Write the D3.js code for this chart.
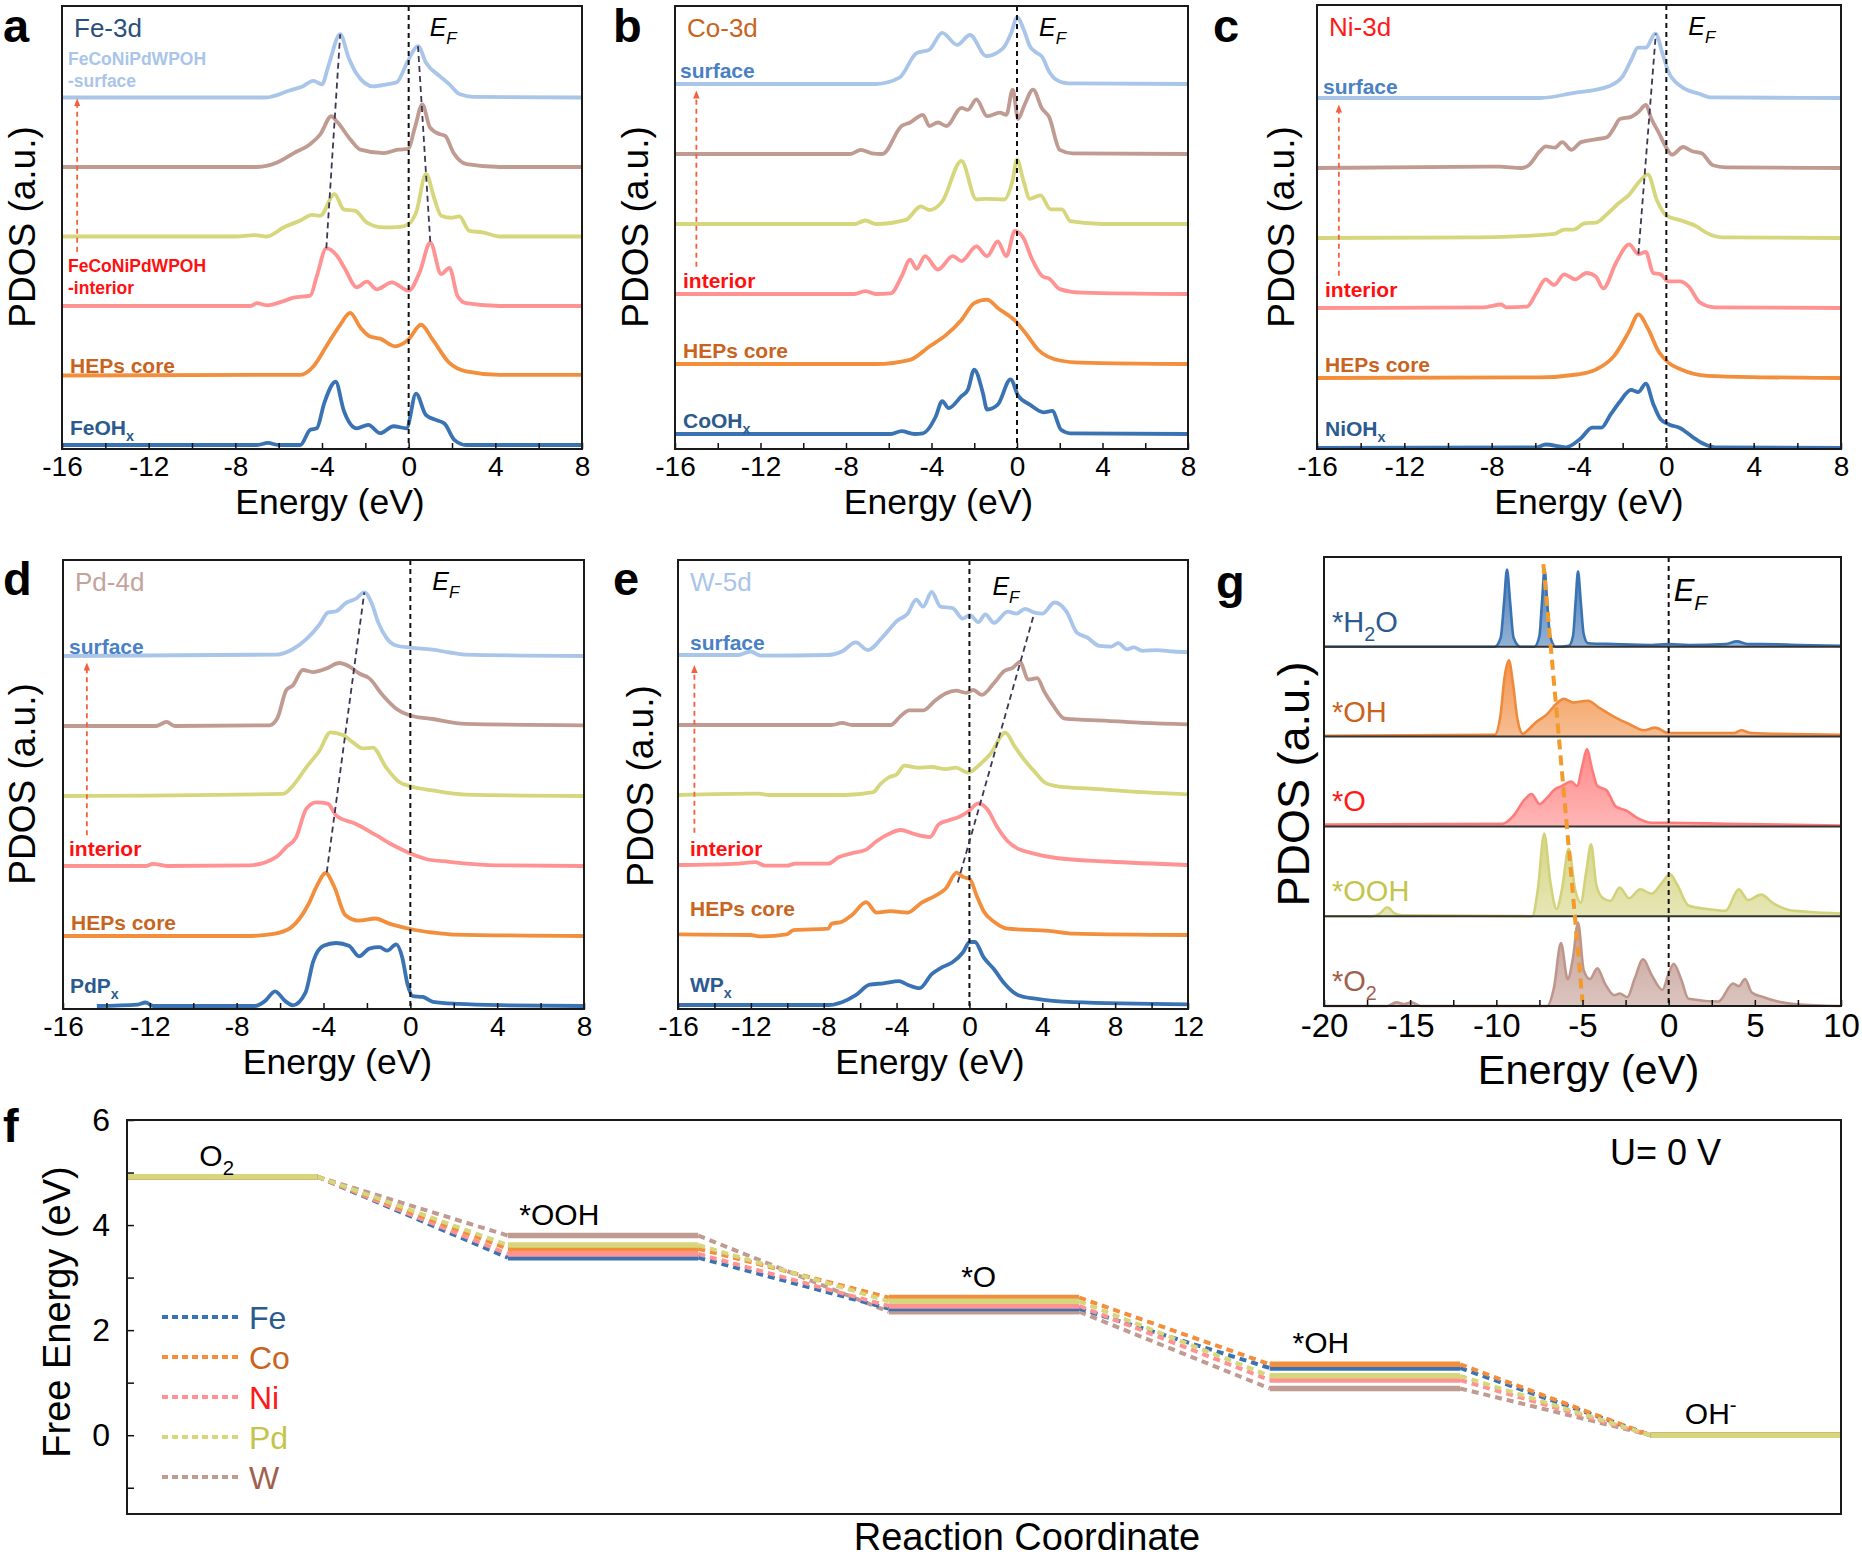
<!DOCTYPE html>
<html>
<head>
<meta charset="utf-8">
<script src="https://d3js.org/d3.v7.min.js"></script>
<style>
  body { margin: 0; background: #fff; }
  svg text { font-family: "Liberation Sans", Arial, sans-serif; }
</style>
</head>
<body>
<script>
// ================= data =================
// PDOS curves: [energy (eV), height in units of the curve spacing]
// layer order: 0 reference, 1 HEPs core, 2 interior, 3, 4, 5 surface
var fe_ref = [[-16,0],[-7,0],[-6.5,0.03],[-6.0,0],[-5.0,0],[-4.54,0.22],[-4.24,0.24],[-3.9,0.6],[-3.37,0.91],[-3.0,0.5],[-2.4,0.24],[-1.86,0.29],[-1.32,0.17],[-0.7,0.27],[-0.1,0.24],[0.34,0.74],[0.8,0.43],[1.27,0.36],[1.65,0.31],[2.12,0.07],[2.65,0],[8,0]];
var fe_core = [[-16,0],[-5.0,0.01],[-4.4,0.13],[-3.8,0.42],[-3.16,0.73],[-2.7,0.9],[-2.23,0.69],[-1.78,0.56],[-1.32,0.53],[-0.63,0.42],[0.0,0.52],[0.57,0.73],[1.1,0.52],[1.88,0.18],[2.65,0.06],[4.2,0.01],[8,0.01]];
var fe_interior = [[-16,0],[-7.3,0],[-7.0,0.04],[-6.55,0.01],[-5.78,0.07],[-5.32,0.12],[-4.54,0.15],[-4.24,0.43],[-3.8,0.83],[-3.3,0.72],[-2.93,0.53],[-2.4,0.27],[-1.93,0.35],[-1.47,0.24],[-0.78,0.34],[0.0,0.22],[0.5,0.48],[1.0,0.91],[1.5,0.46],[1.88,0.55],[2.26,0.14],[2.65,0.04],[4.2,0],[8,0]];
var fe_mid = [[-16,0],[-8,0],[-7.1,0.02],[-6.55,0],[-5.78,0.13],[-5.0,0.23],[-4.46,0.31],[-4.08,0.3],[-3.42,0.61],[-3.0,0.39],[-2.46,0.37],[-1.93,0.2],[-1.16,0.13],[-0.4,0.14],[0.0,0.18],[0.35,0.35],[0.8,0.9],[1.19,0.54],[1.5,0.3],[1.96,0.27],[2.34,0.29],[2.8,0.08],[3.42,0.06],[4.2,0],[8,0]];
var fe_upper = [[-16,0],[-7.0,0],[-6.1,0.06],[-5.3,0.2],[-4.54,0.33],[-4.08,0.47],[-3.57,0.73],[-3.3,0.65],[-2.7,0.4],[-2.23,0.25],[-1.16,0.2],[-0.48,0.25],[-0.03,0.26],[0.29,0.57],[0.63,0.9],[0.98,0.57],[1.45,0.47],[1.68,0.45],[2.06,0.21],[2.68,0.04],[4.2,0],[8,0]];
var fe_surface = [[-16,0],[-6.6,0],[-5.5,0.1],[-4.9,0.16],[-4.4,0.24],[-4.0,0.19],[-3.7,0.46],[-3.16,0.91],[-2.78,0.58],[-2.4,0.34],[-1.63,0.16],[-1.0,0.19],[-0.55,0.22],[-0.03,0.53],[0.43,0.74],[0.8,0.5],[1.42,0.31],[1.88,0.19],[2.34,0.05],[3.0,0.01],[8,0]];
var fe_shift = [[[-3.8,2.83],[-3.16,5.91]], [[0.43,5.74],[1.0,2.91]]];

var co_ref = [[-16,0],[-5.9,0],[-5.4,0.04],[-4.8,0],[-4.4,0.01],[-3.8,0.25],[-3.5,0.47],[-3.2,0.37],[-2.6,0.54],[-2.3,0.63],[-2.0,0.92],[-1.6,0.59],[-1.4,0.35],[-0.9,0.42],[-0.3,0.78],[0.05,0.55],[0.6,0.42],[1.25,0.31],[1.65,0.33],[2.06,0.06],[2.5,0.01],[8,0]];
var co_core = [[-16,0],[-6.6,0],[-5.0,0.06],[-4.1,0.25],[-3.3,0.42],[-2.6,0.63],[-2.0,0.87],[-1.4,0.92],[-0.9,0.8],[0.0,0.59],[0.5,0.4],[1.0,0.2],[2.0,0.05],[3.0,0.02],[8,0]];
var co_interior = [[-16,0],[-7.6,0],[-7.1,0.04],[-6.6,0],[-5.9,0.01],[-5.4,0.25],[-5.0,0.49],[-4.7,0.36],[-4.3,0.54],[-3.7,0.35],[-3.0,0.54],[-2.6,0.47],[-1.9,0.68],[-1.4,0.54],[-0.9,0.75],[-0.5,0.54],[-0.1,0.9],[0.3,0.8],[0.7,0.5],[1.2,0.25],[1.5,0.22],[2.0,0.07],[3.0,0.02],[8,0]];
var co_mid = [[-16,0],[-7.6,0],[-7.1,0.05],[-6.6,0],[-5.2,0.06],[-4.5,0.25],[-4.1,0.2],[-3.5,0.32],[-2.6,0.9],[-1.9,0.35],[-1.5,0.36],[-0.6,0.35],[-0.2,0.63],[0.0,0.92],[0.3,0.62],[0.6,0.36],[1.1,0.41],[1.57,0.21],[2.1,0.21],[2.5,0.04],[4,0],[8,0]];
var co_upper = [[-16,0],[-7.8,0],[-7.3,0.06],[-6.8,0.01],[-6.3,0],[-5.4,0.4],[-5.0,0.45],[-4.4,0.56],[-4.1,0.4],[-3.7,0.45],[-3.3,0.4],[-2.6,0.66],[-2.3,0.63],[-1.9,0.78],[-1.4,0.54],[-0.8,0.59],[-0.5,0.56],[-0.2,0.92],[0.05,0.5],[0.35,0.7],[0.75,0.92],[1.17,0.65],[1.5,0.53],[2.0,0.06],[2.6,0.01],[8,0]];
var co_surface = [[-16,0],[-6.6,0],[-5.5,0.09],[-4.7,0.44],[-4.1,0.49],[-3.5,0.73],[-2.8,0.56],[-2.2,0.7],[-1.44,0.4],[-0.66,0.51],[-0.27,0.73],[0.0,0.95],[0.35,0.75],[0.6,0.54],[0.9,0.45],[1.17,0.39],[1.5,0.18],[1.8,0.07],[2.4,0.01],[8,0]];

var ni_ref = [[-16,0],[-5.96,0.01],[-5.53,0.05],[-4.6,0.01],[-3.91,0.14],[-3.4,0.29],[-2.98,0.29],[-2.55,0.48],[-2.13,0.66],[-1.62,0.83],[-1.28,0.8],[-0.94,0.92],[-0.6,0.63],[-0.26,0.41],[0.17,0.33],[0.6,0.29],[1.19,0.16],[1.7,0.06],[2.21,0.01],[8,0]];
var ni_core = [[-16,0],[-5.79,0.01],[-4.09,0.05],[-3.23,0.12],[-2.38,0.32],[-1.7,0.67],[-1.28,0.91],[-0.85,0.71],[-0.34,0.37],[0.09,0.22],[0.68,0.12],[1.87,0.03],[4.43,0.01],[8,0]];
var ni_interior = [[-16,0],[-8.34,0.01],[-7.57,0.05],[-7.32,0.01],[-6.38,0.02],[-5.96,0.21],[-5.53,0.41],[-5.14,0.33],[-4.68,0.48],[-4.17,0.41],[-3.66,0.5],[-3.23,0.45],[-2.89,0.28],[-2.3,0.65],[-1.7,0.91],[-1.28,0.77],[-0.94,0.8],[-0.6,0.5],[-0.26,0.48],[0.09,0.38],[0.6,0.38],[1.02,0.31],[1.53,0.08],[2.21,0.01],[8,0]];
var ni_mid = [[-16,0],[-8.5,0.01],[-5.11,0.06],[-4.68,0.12],[-4.26,0.12],[-3.74,0.21],[-3.23,0.22],[-2.72,0.34],[-2.21,0.49],[-1.7,0.62],[-1.28,0.79],[-0.85,0.91],[-0.43,0.54],[0.0,0.32],[0.68,0.25],[1.36,0.17],[1.87,0.07],[2.55,0.01],[8,0]];
var ni_upper = [[-16,0],[-7.66,0.02],[-6.64,0],[-6.3,0.04],[-5.79,0.24],[-5.53,0.31],[-5.11,0.29],[-4.77,0.37],[-4.34,0.26],[-3.91,0.37],[-3.23,0.41],[-2.72,0.44],[-2.38,0.58],[-2.13,0.7],[-1.62,0.73],[-1.28,0.8],[-0.94,0.9],[-0.68,0.7],[-0.34,0.5],[0.0,0.29],[0.26,0.19],[0.77,0.3],[1.19,0.24],[1.62,0.21],[2.13,0.04],[2.72,0.01],[8,0]];
var ni_surface = [[-16,0],[-5.8,0],[-4.1,0.08],[-3.2,0.12],[-2.7,0.16],[-2.0,0.31],[-1.6,0.55],[-1.3,0.72],[-0.94,0.72],[-0.5,0.92],[-0.17,0.63],[0.09,0.38],[0.7,0.16],[1.5,0.06],[2.0,0.01],[8,0]];
var ni_shift = [[[-1.28,2.77],[-0.48,5.92]]];

var pd_ref = [[-14.44,0],[-12.56,0.02],[-12.2,0.05],[-11.84,0],[-7.16,0],[-6.7,0.07],[-6.23,0.21],[-5.76,0.07],[-5.41,0.01],[-4.83,0.19],[-4.47,0.64],[-4.0,0.86],[-3.42,0.9],[-2.83,0.86],[-2.36,0.71],[-1.89,0.82],[-1.42,0.84],[-1.07,0.79],[-0.65,0.88],[-0.37,0.69],[-0.13,0.31],[0.11,0.14],[0.57,0.13],[1.04,0.06],[2.21,0.03],[4.56,0.01],[8,0]];
var pd_core = [[-16,0],[-7.5,0],[-6.3,0.03],[-5.5,0.12],[-4.7,0.45],[-4.3,0.72],[-3.9,0.9],[-3.5,0.7],[-3.0,0.3],[-2.4,0.22],[-1.6,0.25],[-1.0,0.18],[0.0,0.1],[1.0,0.05],[2.0,0.02],[8,0]];
var pd_interior = [[-16,0],[-12.2,0],[-11.85,0.03],[-11.2,0],[-7.4,0.01],[-6.17,0.13],[-5.72,0.27],[-5.26,0.41],[-4.79,0.82],[-4.33,0.91],[-3.8,0.89],[-3.41,0.72],[-2.5,0.6],[-1.58,0.44],[-0.81,0.3],[0.0,0.18],[0.72,0.1],[1.79,0.06],[4.09,0.01],[8,0]];
var pd_mid = [[-16,0],[-5.86,0.03],[-5.4,0.15],[-4.79,0.41],[-4.18,0.65],[-3.68,0.91],[-3.11,0.87],[-2.66,0.77],[-2.2,0.68],[-1.73,0.69],[-1.12,0.41],[-0.51,0.2],[0.0,0.14],[1.02,0.08],[2.55,0.02],[8,0]];
var pd_upper = [[-16,0],[-11.7,0],[-11.23,0.06],[-10.85,0],[-6.48,0.01],[-6.1,0.13],[-5.72,0.51],[-5.41,0.58],[-4.95,0.8],[-4.49,0.77],[-3.88,0.82],[-3.27,0.9],[-2.81,0.85],[-2.35,0.75],[-1.89,0.68],[-1.27,0.44],[-0.66,0.25],[0.0,0.15],[1.02,0.1],[2.55,0.03],[8,0.01]];
var pd_surface = [[-16,0],[-6.17,0.02],[-5.4,0.1],[-4.79,0.24],[-4.18,0.45],[-3.8,0.62],[-3.41,0.64],[-2.96,0.76],[-2.5,0.82],[-2.12,0.91],[-1.79,0.76],[-1.48,0.48],[-1.1,0.26],[-0.66,0.15],[0.0,0.12],[1.02,0.09],[1.8,0.05],[2.5,0.02],[8,0]];
var pd_shift = [[[-3.85,1.91],[-2.12,5.91]]];

var w_ref = [[-16,0],[-7.76,0],[-7.0,0.04],[-6.24,0.14],[-5.48,0.29],[-4.72,0.31],[-3.87,0.34],[-3.4,0.29],[-2.73,0.24],[-2.07,0.44],[-1.5,0.54],[-0.93,0.61],[-0.36,0.75],[0.02,0.9],[0.3,0.9],[0.78,0.68],[1.35,0.51],[1.91,0.31],[2.68,0.14],[3.62,0.09],[5.7,0.04],[12,0.01]];
var w_core = [[-16,0.01],[-12.02,0],[-11.55,-0.02],[-10.03,0.01],[-9.66,0.07],[-7.76,0.09],[-7.57,0.16],[-7.0,0.19],[-6.43,0.29],[-5.67,0.47],[-5.1,0.32],[-4.34,0.34],[-3.4,0.32],[-2.64,0.46],[-1.88,0.56],[-1.31,0.66],[-0.7,0.89],[-0.36,0.83],[0.02,0.8],[0.4,0.56],[0.78,0.34],[1.35,0.19],[2.1,0.09],[4.38,0.06],[5.7,0.02],[12,0]];
var w_interior = [[-16,0],[-12.7,0.02],[-11.74,0.04],[-11.2,-0.01],[-10.03,-0.01],[-9.56,0.02],[-7.76,0.02],[-7.19,0.11],[-6.43,0.17],[-5.67,0.22],[-5.1,0.34],[-4.53,0.43],[-3.77,0.5],[-3.0,0.44],[-2.16,0.4],[-1.69,0.58],[-1.12,0.64],[-0.55,0.69],[-0.08,0.76],[0.49,0.88],[0.97,0.8],[1.53,0.54],[2.1,0.34],[2.68,0.23],[3.43,0.17],[4.76,0.1],[7.6,0.05],[12,0]];
var w_mid = [[-16,0],[-11.55,0.02],[-11.0,0],[-6.8,0],[-5.29,0.04],[-4.91,0.15],[-4.44,0.25],[-3.97,0.3],[-3.58,0.42],[-2.83,0.39],[-2.07,0.4],[-1.31,0.37],[-0.74,0.39],[-0.08,0.32],[0.59,0.44],[1.16,0.59],[1.97,0.89],[2.49,0.69],[3.05,0.49],[3.62,0.32],[4.19,0.17],[4.95,0.12],[6.66,0.09],[9.5,0.04],[12,0.01]];
var w_upper = [[-16,0],[-7.57,0],[-7.0,0.03],[-6.43,0],[-4.34,0],[-3.77,0.13],[-3.3,0.21],[-2.54,0.21],[-1.88,0.35],[-1.31,0.45],[-0.74,0.49],[-0.17,0.46],[0.21,0.5],[0.68,0.43],[1.35,0.6],[1.91,0.77],[2.39,0.82],[2.77,0.9],[3.24,0.65],[3.72,0.67],[4.1,0.48],[4.57,0.29],[5.24,0.09],[7.6,0.06],[9.5,0.03],[12,0.01]];
var w_surface = [[-16,0],[-12.7,0],[-12.02,0.05],[-11.46,-0.01],[-7.76,0],[-7.0,0.05],[-6.24,0.18],[-5.58,0.07],[-4.72,0.27],[-3.97,0.49],[-3.4,0.59],[-2.92,0.79],[-2.54,0.69],[-2.07,0.9],[-1.59,0.69],[-0.93,0.67],[-0.36,0.52],[0.02,0.57],[0.49,0.47],[0.87,0.58],[1.35,0.46],[2.1,0.62],[2.58,0.59],[3.05,0.66],[3.53,0.61],[4.0,0.59],[4.67,0.75],[5.33,0.62],[5.9,0.32],[6.47,0.25],[7.13,0.13],[7.8,0.12],[8.17,0.17],[8.65,0.08],[9.03,0.11],[9.5,0.06],[10.26,0.07],[11.2,0.05],[12,0.04]];
var w_shift = [[[-0.64,1.75],[3.53,5.57]]];

// panel g: O-2p PDOS of adsorbates, height as fraction of each strip
var g_h2o = [[-20,0],[-10.1,0],[-9.75,0.1],[-9.55,0.5],[-9.38,0.86],[-9.2,0.5],[-9.0,0.1],[-8.6,0],[-7.8,0],[-7.5,0.12],[-7.35,0.5],[-7.2,0.86],[-7.05,0.5],[-6.88,0.12],[-6.55,0],[-5.8,0.01],[-5.55,0.12],[-5.4,0.5],[-5.26,0.84],[-5.1,0.5],[-4.93,0.14],[-4.68,0.04],[-3.16,0.03],[-1.0,0.02],[0,0.03],[1.15,0.02],[3.3,0.03],[3.96,0.06],[4.6,0.03],[5.47,0.03],[7.6,0.02],[10,0.01]];
var g_oh = [[-20,0.01],[-10.1,0.02],[-9.75,0.25],[-9.53,0.65],[-9.27,0.85],[-9.04,0.6],[-8.78,0.2],[-8.45,0.03],[-8.24,0.06],[-7.7,0.16],[-7.05,0.25],[-6.5,0.37],[-6.08,0.42],[-5.54,0.38],[-4.68,0.4],[-4.03,0.32],[-3.16,0.22],[-2.3,0.14],[-1.44,0.07],[-0.79,0.1],[0,0.04],[1.15,0.04],[3.8,0.04],[4.2,0.07],[4.8,0.04],[10,0.02]];
var g_o = [[-20,0.02],[-9.64,0.03],[-9.0,0.12],[-8.35,0.3],[-7.96,0.36],[-7.48,0.25],[-7.05,0.32],[-6.62,0.41],[-6.19,0.45],[-5.65,0.5],[-5.32,0.45],[-5.0,0.68],[-4.74,0.86],[-4.46,0.65],[-4.14,0.45],[-3.6,0.4],[-3.06,0.22],[-2.5,0.18],[-1.87,0.1],[-1.0,0.04],[0,0.04],[3.3,0.03],[10,0.01]];
var g_ooh = [[-20,0],[-17.2,0],[-16.76,0.03],[-16.33,0.1],[-15.9,0.03],[-15.47,0.01],[-7.91,0],[-7.59,0.3],[-7.22,0.92],[-6.88,0.4],[-6.5,0.08],[-6.19,0.3],[-5.8,0.75],[-5.43,0.3],[-5.1,0.15],[-4.78,0.5],[-4.5,0.8],[-4.2,0.35],[-3.81,0.2],[-3.38,0.17],[-2.84,0.32],[-2.3,0.2],[-1.65,0.3],[-1.0,0.25],[-0.36,0.38],[0.07,0.47],[0.5,0.35],[1.15,0.12],[2.23,0.08],[3.3,0.06],[4.07,0.3],[4.6,0.18],[5.36,0.24],[6.1,0.14],[6.98,0.07],[8.06,0.05],[10,0.03]];
var g_o2 = [[-20,0],[-16.33,0],[-15.8,0.04],[-15.36,0.02],[-14.93,0.04],[-14.39,0],[-7.05,0],[-6.66,0.2],[-6.25,0.7],[-5.86,0.3],[-5.54,0.55],[-5.26,0.93],[-4.93,0.4],[-4.57,0.3],[-4.14,0.42],[-3.7,0.25],[-3.16,0.12],[-2.84,0.14],[-2.4,0.1],[-1.98,0.3],[-1.48,0.52],[-1.0,0.35],[-0.36,0.18],[-0.02,0.35],[0.29,0.47],[0.72,0.3],[1.15,0.08],[2.88,0.05],[3.74,0.25],[4.07,0.22],[4.43,0.3],[4.82,0.15],[5.47,0.1],[6.33,0.05],[7.4,0.02],[10,0]];
var g_shift = [[-7.27,4.92],[-5.0,0.05]];

// panel f: free energy diagram
var steps = ["O2", "*OOH", "*O", "*OH", "OH-"];
var metals = ["Fe", "Co", "Ni", "Pd", "W"];
var feG = [4.92, 3.38, 2.41, 1.28, 0];
var coG = [4.92, 3.55, 2.62, 1.35, 0];
var niG = [4.92, 3.45, 2.46, 1.05, 0];
var pdG = [4.92, 3.62, 2.55, 1.13, 0];
var wG  = [4.92, 3.80, 2.35, 0.89, 0];
var fTicks = [6, 4, 2, 0];

// ================= drawing =================
var W = 1862, H = 1560;
var svg = d3.select("body").append("svg").attr("width", W).attr("height", H);
svg.append("rect").attr("width", W).attr("height", H).attr("fill", "#fff");

var defs = svg.append("defs");
defs.append("marker").attr("id", "arr").attr("viewBox", "0 0 10 10")
  .attr("refX", 5).attr("refY", 5).attr("markerWidth", 8).attr("markerHeight", 8)
  .attr("markerUnits", "userSpaceOnUse").attr("orient", "auto")
  .append("path").attr("d", "M0,1 L10,5 L0,9 Z").attr("fill", "#f2603c");

var layerColors = ["#3a73b3", "#f28e3c", "#ff9393", "#d6d67c", "#c09b92", "#a9c5e9"];

// text with sub/superscripts
function rich(g, x, y, parts, size, attrs) {
  var t = g.append("text").attr("x", x).attr("y", y).attr("font-size", size);
  for (var k in attrs) t.attr(k, attrs[k]);
  var shift = 0;
  parts.forEach(function (p) {
    if (typeof p === "string") p = { t: p };
    var s = t.append("tspan").text(p.t);
    var target = p.sub ? size * 0.3 : (p.sup ? -size * 0.4 : 0);
    if (target !== shift) { s.attr("dy", target - shift); shift = target; }
    if (p.sub || p.sup) s.attr("font-size", size * 0.68);
    if (p.it) s.attr("font-style", "italic");
  });
  return t;
}

function panelLetter(ch, x, y) {
  svg.append("text").attr("x", x).attr("y", y).attr("font-size", 47)
    .attr("font-weight", "bold").text(ch);
}

function ylabel(txt, x, y, size) {
  svg.append("text").attr("transform", "translate(" + x + "," + y + ") rotate(-90)")
    .attr("text-anchor", "middle").attr("font-size", size).text(txt);
}

function pdosPanel(p) {
  var g = svg.append("g");
  var x = d3.scaleLinear().domain(p.xDom).range([p.x0, p.x1]);
  var y = d3.scaleLinear().domain([0, 1]).range([p.base, p.base - p.step]);
  var line = d3.line().x(function (d) { return x(d[0]); })
    .y(function (d) { return y(d[1]); }).curve(d3.curveMonotoneX);

  p.curves.forEach(function (c, i) {
    g.append("path").datum(c.map(function (d) { return [d[0], d[1] + i]; }))
      .attr("d", line).attr("fill", "none").attr("stroke", layerColors[i])
      .attr("stroke-width", 3.8).attr("stroke-linejoin", "round");
  });

  // Fermi level
  g.append("line").attr("x1", x(0)).attr("x2", x(0)).attr("y1", p.y0).attr("y2", p.y1)
    .attr("stroke", "#111").attr("stroke-width", 2).attr("stroke-dasharray", "5,4");
  rich(g, x(0) + p.efDx, p.y0 + p.efDy, [{ t: "E", it: 1 }, { t: "F", it: 1, sub: 1 }], 25, {});

  // peak shift guides
  (p.shift || []).forEach(function (s) {
    g.append("path").datum(s).attr("d", d3.line().x(function (d) { return x(d[0]); }).y(function (d) { return y(d[1]); }))
      .attr("stroke", "#3d3555").attr("stroke-width", 1.8).attr("stroke-dasharray", "6,4").attr("fill", "none");
  });

  // interior -> surface arrow
  g.append("line").attr("x1", x(p.arrow[0])).attr("x2", x(p.arrow[0]))
    .attr("y1", y(p.arrow[1])).attr("y2", y(p.arrow[2]))
    .attr("stroke", "#f2603c").attr("stroke-width", 1.8).attr("stroke-dasharray", "5,4")
    .attr("marker-end", "url(#arr)");

  // title and curve labels
  g.append("text").attr("x", p.x0 + 12).attr("y", p.y0 + 31).attr("font-size", 26)
    .attr("fill", p.titleColor).text(p.title);
  p.labels.forEach(function (l) {
    l.lines.forEach(function (ln, j) {
      rich(g, p.x0 + l.dx, y(l.layer) + l.dy + j * 22, ln, l.size || 21,
        { "font-weight": "bold", fill: l.color });
    });
  });

  // axis
  var ticks = d3.range(p.xDom[0], p.xDom[1] + 0.1, 2);
  var ax = g.append("g").attr("transform", "translate(0," + p.y1 + ")")
    .call(d3.axisBottom(x).tickValues(ticks).tickSize(-6).tickPadding(7)
      .tickFormat(function (d) { return d % 4 === 0 ? String(d) : ""; }));
  ax.attr("font-size", 28);
  ax.select(".domain").remove();
  ax.selectAll(".tick line").attr("stroke", "#111").attr("stroke-width", 1.5);

  g.append("text").attr("x", (p.x0 + p.x1) / 2 + p.titleDx).attr("y", p.y1 + 65)
    .attr("text-anchor", "middle").attr("font-size", 35.5).text("Energy (eV)");

  g.append("rect").attr("x", p.x0).attr("y", p.y0).attr("width", p.x1 - p.x0)
    .attr("height", p.y1 - p.y0).attr("fill", "none").attr("stroke", "#1a1a1a").attr("stroke-width", 2);
}

var SURF = "#4a80c4", INT = "#ff1010", CORE = "#c8641e", REF = "#2b5a8e";

pdosPanel({
  x0: 62, x1: 582, y0: 6, y1: 449, xDom: [-16, 8], base: 445, step: 69.5,
  curves: [fe_ref, fe_core, fe_interior, fe_mid, fe_upper, fe_surface],
  shift: fe_shift, arrow: [-15.3, 2.78, 4.93], efDx: 21, efDy: 30, titleDx: 8,
  title: "Fe-3d", titleColor: "#2b4f7c",
  labels: [
    { layer: 5, dx: 6, dy: -33, size: 17.5, color: "#a9c5e9", lines: [["FeCoNiPdWPOH"], ["-surface"]] },
    { layer: 2, dx: 6, dy: -34, size: 17.5, color: INT, lines: [["FeCoNiPdWPOH"], ["-interior"]] },
    { layer: 1, dx: 8, dy: -3, color: CORE, lines: [["HEPs core"]] },
    { layer: 0, dx: 8, dy: -10, color: REF, lines: [["FeOH", { t: "x", sub: 1 }]] }
  ]
});
pdosPanel({
  x0: 675, x1: 1188, y0: 6, y1: 449, xDom: [-16, 8], base: 434, step: 70,
  curves: [co_ref, co_core, co_interior, co_mid, co_upper, co_surface],
  arrow: [-15.0, 2.39, 4.85], efDx: 22, efDy: 30, titleDx: 7,
  title: "Co-3d", titleColor: "#c8641e",
  labels: [
    { layer: 5, dx: 5, dy: -6, color: SURF, lines: [["surface"]] },
    { layer: 2, dx: 8, dy: -6, color: INT, lines: [["interior"]] },
    { layer: 1, dx: 8, dy: -6, color: CORE, lines: [["HEPs core"]] },
    { layer: 0, dx: 8, dy: -6, color: REF, lines: [["CoOH", { t: "x", sub: 1 }]] }
  ]
});
pdosPanel({
  x0: 1317, x1: 1841, y0: 5, y1: 449, xDom: [-16, 8], base: 448, step: 70,
  curves: [ni_ref, ni_core, ni_interior, ni_mid, ni_upper, ni_surface],
  shift: ni_shift, arrow: [-15.0, 2.46, 4.85], efDx: 22, efDy: 30, titleDx: 10,
  title: "Ni-3d", titleColor: "#ff1a1a",
  labels: [
    { layer: 5, dx: 6, dy: -4, color: SURF, lines: [["surface"]] },
    { layer: 2, dx: 8, dy: -11, color: INT, lines: [["interior"]] },
    { layer: 1, dx: 8, dy: -6, color: CORE, lines: [["HEPs core"]] },
    { layer: 0, dx: 8, dy: -12, color: REF, lines: [["NiOH", { t: "x", sub: 1 }]] }
  ]
});
pdosPanel({
  x0: 63, x1: 584, y0: 560, y1: 1009, xDom: [-16, 8], base: 1006, step: 70,
  curves: [pd_ref, pd_core, pd_interior, pd_mid, pd_upper, pd_surface],
  shift: pd_shift, arrow: [-14.9, 2.44, 4.85], efDx: 22, efDy: 30, titleDx: 14,
  title: "Pd-4d", titleColor: "#c4a39c",
  labels: [
    { layer: 5, dx: 6, dy: -2, color: SURF, lines: [["surface"]] },
    { layer: 2, dx: 6, dy: -10, color: INT, lines: [["interior"]] },
    { layer: 1, dx: 8, dy: -6, color: CORE, lines: [["HEPs core"]] },
    { layer: 0, dx: 7, dy: -13, color: REF, lines: [["PdP", { t: "x", sub: 1 }]] }
  ]
});
pdosPanel({
  x0: 678, x1: 1188, y0: 560, y1: 1009, xDom: [-16, 12], base: 1005, step: 70,
  curves: [w_ref, w_core, w_interior, w_mid, w_upper, w_surface],
  shift: w_shift, arrow: [-15.1, 2.46, 4.8], efDx: 23, efDy: 35, titleDx: -3,
  title: "W-5d", titleColor: "#a9c5e9",
  labels: [
    { layer: 5, dx: 12, dy: -5, color: SURF, lines: [["surface"]] },
    { layer: 2, dx: 12, dy: -9, color: INT, lines: [["interior"]] },
    { layer: 1, dx: 12, dy: -19, color: CORE, lines: [["HEPs core"]] },
    { layer: 0, dx: 12, dy: -13, color: REF, lines: [["WP", { t: "x", sub: 1 }]] }
  ]
});

ylabel("PDOS (a.u.)", 35, 227, 37);
ylabel("PDOS (a.u.)", 648, 227, 37);
ylabel("PDOS (a.u.)", 1294, 227, 37);
ylabel("PDOS (a.u.)", 35, 784, 37);
ylabel("PDOS (a.u.)", 653, 786, 37);
ylabel("PDOS (a.u.)", 1309, 784, 45);

panelLetter("a", 3, 42);
panelLetter("b", 613, 42);
panelLetter("c", 1213, 42);
panelLetter("d", 3, 595);
panelLetter("e", 613, 595);
panelLetter("g", 1216, 598);
panelLetter("f", 3, 1142);

// ---------- panel g ----------
(function () {
  var x0 = 1324, x1 = 1841, y0 = 557, y1 = 1006;
  var g = svg.append("g");
  var x = d3.scaleLinear().domain([-20, 10]).range([x0, x1]);
  var y = d3.scaleLinear().domain([0, 5]).range([y1, y0]);
  var series = [
    { d: g_o2, c: "#bf968c", lab: ["*O", { t: "2", sub: 1 }], lc: "#a0604e" },
    { d: g_ooh, c: "#d2d27a", lab: ["*OOH"], lc: "#c4c44a" },
    { d: g_o, c: "#ff7b7b", lab: ["*O"], lc: "#ff1a1a" },
    { d: g_oh, c: "#f0893a", lab: ["*OH"], lc: "#c8641e" },
    { d: g_h2o, c: "#3a73b3", lab: ["*H", { t: "2", sub: 1 }, "O"], lc: "#2b5a8e" }
  ];
  series.forEach(function (s, k) {
    var gid = "gg" + k;
    var grad = defs.append("linearGradient").attr("id", gid).attr("gradientUnits", "userSpaceOnUse")
      .attr("x1", 0).attr("x2", 0).attr("y1", y(k + 1)).attr("y2", y(k));
    grad.append("stop").attr("offset", 0).attr("stop-color", s.c).attr("stop-opacity", 0.95);
    grad.append("stop").attr("offset", 1).attr("stop-color", s.c).attr("stop-opacity", 0.55);
    var area = d3.area().x(function (d) { return x(d[0]); })
      .y0(y(k)).y1(function (d) { return y(k + d[1]); }).curve(d3.curveMonotoneX);
    var line = d3.line().x(function (d) { return x(d[0]); })
      .y(function (d) { return y(k + d[1]); }).curve(d3.curveMonotoneX);
    g.append("path").datum(s.d).attr("d", area).attr("fill", "url(#" + gid + ")");
    g.append("path").datum(s.d).attr("d", line).attr("fill", "none")
      .attr("stroke", s.c).attr("stroke-width", 2.6);
    rich(g, x0 + 8, y(k) - 15, s.lab, 29, { fill: s.lc });
  });
  d3.range(1, 5).forEach(function (k) {
    g.append("line").attr("x1", x0).attr("x2", x1).attr("y1", y(k)).attr("y2", y(k))
      .attr("stroke", "#333").attr("stroke-width", 2);
  });
  g.append("line").attr("x1", x(0)).attr("x2", x(0)).attr("y1", y0).attr("y2", y1)
    .attr("stroke", "#111").attr("stroke-width", 2).attr("stroke-dasharray", "5,4");
  rich(g, x(0) + 5, y0 + 44, [{ t: "E", it: 1 }, { t: "F", it: 1, sub: 1 }], 31, {});
  g.append("path").datum(g_shift)
    .attr("d", d3.line().x(function (d) { return x(d[0]); }).y(function (d) { return y(d[1]); }))
    .attr("stroke", "#f39a2a").attr("stroke-width", 4).attr("stroke-dasharray", "10,6").attr("fill", "none");

  var ax = g.append("g").attr("transform", "translate(0," + y1 + ")")
    .call(d3.axisBottom(x).tickValues(d3.range(-20, 10.1, 2.5)).tickSize(-6).tickPadding(8)
      .tickFormat(function (d) { return d % 5 === 0 ? String(d) : ""; }));
  ax.attr("font-size", 33);
  ax.select(".domain").remove();
  ax.selectAll(".tick line").attr("stroke", "#111").attr("stroke-width", 1.5);
  g.append("text").attr("x", (x0 + x1) / 2 + 6).attr("y", 1084).attr("text-anchor", "middle")
    .attr("font-size", 41.5).text("Energy (eV)");
  g.append("rect").attr("x", x0).attr("y", y0).attr("width", x1 - x0).attr("height", y1 - y0)
    .attr("fill", "none").attr("stroke", "#1a1a1a").attr("stroke-width", 2);
})();

// ---------- panel f ----------
(function () {
  var x0 = 127, x1 = 1841, y0 = 1120, y1 = 1514;
  var g = svg.append("g");
  var x = d3.scaleLinear().domain([0, 4.5]).range([x0, x1]);
  var y = d3.scaleLinear().domain([-1.5, 6]).range([y1, y0]);
  var energies = { Fe: feG, Co: coG, Ni: niG, Pd: pdG, W: wG };
  var lineCol = { Fe: "#3a73b3", Co: "#f28e3c", Ni: "#ff9393", Pd: "#d6d67c", W: "#c09b92" };
  var textCol = { Fe: "#2b5a8e", Co: "#c8641e", Ni: "#ff1a1a", Pd: "#c4c44a", W: "#a0604e" };
  var drawOrder = ["W", "Fe", "Ni", "Co", "Pd"];

  // dashed connectors
  drawOrder.forEach(function (m) {
    var e = energies[m];
    for (var i = 0; i < e.length - 1; i++) {
      g.append("line").attr("x1", x(i + 0.5)).attr("y1", y(e[i]))
        .attr("x2", x(i + 1)).attr("y2", y(e[i + 1]))
        .attr("stroke", lineCol[m]).attr("stroke-width", 4).attr("stroke-dasharray", "7,5");
    }
  });
  // energy levels
  drawOrder.forEach(function (m) {
    energies[m].forEach(function (v, i) {
      g.append("line").attr("x1", x(i)).attr("x2", x(i + 0.5)).attr("y1", y(v)).attr("y2", y(v))
        .attr("stroke", lineCol[m]).attr("stroke-width", 5.5);
    });
  });
  // step labels
  var labParts = [["O", { t: "2", sub: 1 }], ["*OOH"], ["*O"], ["*OH"], ["OH", { t: "-", sup: 1 }]];
  var labOff = [0.19, 0.03, 0.19, 0.06, 0.09];
  steps.forEach(function (s, i) {
    var top = d3.max(metals, function (m) { return energies[m][i]; });
    rich(g, x(i + labOff[i]), y(top) - 11, labParts[i], 30, {});
  });
  g.append("text").attr("x", 1610).attr("y", 1165).attr("font-size", 36).text("U= 0 V");

  // legend
  metals.forEach(function (m, j) {
    var ly = 1317 + j * 40;
    g.append("line").attr("x1", 162).attr("x2", 240).attr("y1", ly).attr("y2", ly)
      .attr("stroke", lineCol[m]).attr("stroke-width", 4).attr("stroke-dasharray", "6,4");
    g.append("text").attr("x", 249).attr("y", ly + 12).attr("font-size", 32)
      .attr("fill", textCol[m]).text(m);
  });

  // axis
  var ax = g.append("g").attr("transform", "translate(" + x0 + ",0)")
    .call(d3.axisLeft(y).tickValues(d3.range(-1, 6.1, 1)).tickSize(-7).tickPadding(17)
      .tickFormat(function (d) { return fTicks.indexOf(d) >= 0 ? String(d) : ""; }));
  ax.attr("font-size", 32);
  ax.select(".domain").remove();
  ax.selectAll(".tick line").attr("stroke", "#111").attr("stroke-width", 1.5);

  ylabel("Free Energy (eV)", 70, 1312, 38);
  g.append("text").attr("x", 1027).attr("y", 1550).attr("text-anchor", "middle")
    .attr("font-size", 38).text("Reaction Coordinate");
  g.append("rect").attr("x", x0).attr("y", y0).attr("width", x1 - x0).attr("height", y1 - y0)
    .attr("fill", "none").attr("stroke", "#1a1a1a").attr("stroke-width", 2);
})();
</script>
</body>
</html>
